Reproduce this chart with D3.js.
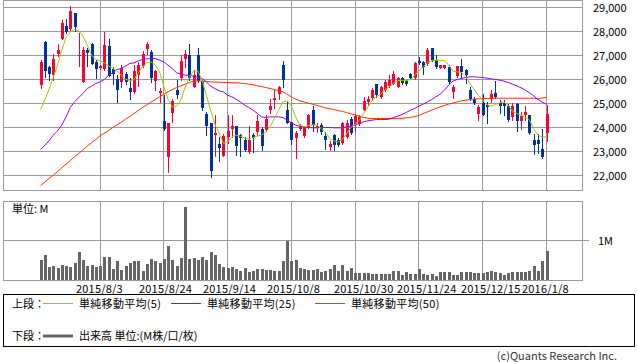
<!DOCTYPE html>
<html><head><meta charset="utf-8">
<script src="https://cdn.jsdelivr.net/npm/d3@7"></script>
<style>
body{margin:0;background:#fff;}
svg text{font-family:"Noto Sans CJK JP","DejaVu Sans",sans-serif;font-size:11px;fill:#000;}
</style></head>
<body><svg id="c" width="638" height="362"></svg>
<script>
// ---- data ----
const openP = [25764,27569,26528,26181,27056,27708,28222,28125,28750,26972,
25903,27250,27500,26736,26472,26458,27403,26458,26014,25903,
26222,25625,25486,26181,26569,27264,27153,25931,25444,24278,
22778,24611,25583,26069,26875,27014,25694,27014,25931,24556,
24167,23694,23306,22819,23611,23944,24056,23681,23500,22986,
23681,23819,23958,23889,24722,25139,25389,26597,24722,24236,
23542,23917,23653,24028,24722,24028,24097,23653,23167,23681,
23472,23361,23611,24347,24139,24139,24750,25069,25250,25806,
25278,25556,25722,25833,25694,26042,25944,26222,26042,26764,
26736,26639,27292,26806,26486,26500,26528,25486,26139,26556,
26389,25583,25167,24556,25028,24931,25167,25417,25028,25000,
24889,24444,24972,24278,24514,24514,23500,23500,23125,23778];
const highP = [26806,27597,26556,27056,27500,28472,28500,29056,28750,27917,
27361,27292,27528,26806,26597,27986,27667,26528,26181,26597,
26319,26083,26597,26736,27181,27569,27250,26389,25625,25347,
24194,25167,25972,27014,27222,27500,26389,27333,25972,24653,
24194,24514,23611,23750,24514,24514,24056,23750,23611,24056,
23778,24514,24028,24514,25167,25556,25736,26764,25111,24236,
23861,24139,24056,24583,24889,24167,24167,23792,23444,23722,
23542,24236,24306,24444,24514,24514,25278,25306,25625,25833,
25722,25972,26181,26361,26111,26111,25972,26278,26736,26944,
26764,27292,27333,27014,26625,26625,26597,25764,26556,26875,
26458,25667,25278,24931,25389,25069,25583,25931,25139,25139,
24972,25000,25000,24653,24889,24514,23722,23750,23958,24931];
const lowP = [25625,26111,25972,26000,26972,27667,27917,28083,28028,26556,
25903,26569,26639,26083,26458,26389,26139,25833,25069,25667,
25833,25167,25444,25722,26528,27083,25903,25556,25069,23889,
22153,24236,25250,25972,26528,25972,25667,25903,24722,23708,
21944,22806,22611,22806,23375,23611,22847,22806,23028,22944,
22986,23681,23056,23861,24611,24792,25167,25667,24167,23292,
22750,23889,23611,24000,23861,23819,23750,23097,23083,23083,
23236,23306,23583,23750,23861,24097,24722,24931,25139,25278,
25250,25528,25667,25792,25667,25833,25764,26042,26014,26639,
26222,26597,26764,26500,26472,26472,25861,25236,26111,26042,
25861,25139,24972,24306,24514,24194,25069,25250,24611,24514,
24278,24333,23847,23958,24306,23722,22889,22944,22750,23444];
const closeP = [26736,26361,26222,26875,27222,28361,27986,28847,28194,27014,
27250,27111,26639,26458,26569,27431,26139,26222,25556,26500,
25903,25486,26347,26597,27083,27500,26042,26347,25528,23931,
24194,25097,25347,26764,27083,26083,26181,25931,24819,24056,
22194,23778,23153,23639,23847,24056,23236,23583,23056,23500,
23583,24278,23236,24347,24889,25250,25667,26000,24194,23472,
23778,24056,24028,24514,24097,24083,23792,23472,23306,23264,
23264,24167,24194,23778,24472,24444,25111,25167,25583,25347,
25667,25903,26000,26222,26069,25861,25833,26083,26667,26694,
26528,27222,26806,26528,26597,26597,25903,25667,26556,26319,
26181,25208,25028,24861,24514,24861,25375,25278,24889,24889,
24306,24889,24278,24472,24653,23778,23264,23306,22778,24583];
const ma5 = [24750,25139,25583,26083,26597,27222,27750,27972,28083,28028,
27806,27431,27014,26833,26778,26694,26569,26458,26347,26181,
26014,25944,26000,26278,26528,26694,26736,26597,26319,25722,
25167,24861,24889,25139,25667,26083,26361,26361,25972,25347,
24722,24139,23778,23333,23403,23611,23681,23639,23569,23514,
23583,23639,23681,23819,24028,24375,24722,25069,25111,24889,
24444,24097,24028,24083,24111,24097,23958,23778,23542,23444,
23403,23500,23750,24000,24139,24306,24583,24861,25139,25278,
25389,25556,25694,25833,25944,25972,25944,26000,26181,26361,
26528,26694,26778,26806,26806,26792,26597,26347,26319,26292,
26139,25833,25583,25347,25139,24944,24889,24958,25028,25069,
24917,24681,24583,24514,24444,24306,23958,23681,23611,23611];
const ma25 = [23083,23250,23444,23681,23861,24097,24444,24833,25069,25250,
25417,25625,25722,25833,25903,26000,26181,26278,26417,26458,
26556,26667,26694,26778,26833,26861,26875,26875,26806,26736,
26597,26458,26278,26222,26181,26167,26139,26083,26042,25903,
25722,25625,25528,25486,25347,25278,25181,25069,24931,24833,
24722,24583,24444,24417,24444,24444,24444,24417,24306,24194,
24097,24056,24028,24000,23986,23986,24000,24000,24000,23986,
23986,23986,24028,24056,24097,24167,24236,24278,24306,24333,
24333,24333,24347,24417,24472,24542,24625,24722,24792,24889,
24972,25069,25167,25278,25389,25556,25764,25931,26000,26042,
26083,26111,26111,26097,26083,26056,26028,26000,25972,25931,
25875,25806,25736,25653,25556,25444,25319,25167,25056,24972];
const ma50 = [21583,21722,21875,22014,22167,22319,22472,22625,22778,22917,
23069,23222,23361,23500,23653,23764,23875,24000,24111,24222,
24347,24458,24583,24708,24833,24944,25056,25167,25278,25389,
25486,25583,25667,25736,25806,25875,25931,25944,25931,25917,
25903,25889,25889,25875,25875,25861,25861,25847,25833,25806,
25778,25736,25708,25667,25625,25583,25542,25486,25389,25278,
25181,25111,25069,25014,24972,24917,24875,24819,24778,24750,
24708,24667,24625,24569,24528,24472,24417,24389,24375,24375,
24375,24375,24375,24375,24375,24389,24403,24417,24458,24500,
24583,24653,24722,24792,24861,24917,24972,25014,25069,25111,
25139,25167,25181,25194,25208,25208,25222,25222,25222,25222,
25222,25222,25222,25222,25222,25222,25222,25194,25236,25250];
const volumeM = [0.51,0.64,0.34,0.36,0.30,0.38,0.36,0.34,0.44,0.70,
0.51,0.36,0.38,0.34,0.36,0.58,0.58,0.27,0.48,0.25,
0.36,0.44,0.48,0.48,0.24,0.41,0.53,0.47,0.44,0.53,
0.85,0.51,0.36,0.55,1.86,0.54,0.55,0.51,0.58,0.51,
0.72,0.64,0.41,0.32,0.30,0.32,0.27,0.24,0.30,0.21,
0.23,0.28,0.28,0.25,0.25,0.24,0.24,0.47,1.00,0.48,
0.51,0.30,0.28,0.25,0.25,0.28,0.19,0.22,0.27,0.38,
0.24,0.38,0.23,0.30,0.17,0.17,0.17,0.17,0.15,0.15,
0.15,0.15,0.15,0.22,0.22,0.12,0.19,0.14,0.15,0.27,
0.14,0.13,0.14,0.10,0.21,0.21,0.21,0.13,0.13,0.19,
0.19,0.19,0.17,0.17,0.17,0.19,0.23,0.19,0.17,0.13,
0.17,0.19,0.19,0.19,0.21,0.24,0.36,0.23,0.47,0.74];
const tickIndex = [14,29,44,59,74,89,104,119];
const tickLabels = ["2015/8/3","2015/8/24","2015/9/14","2015/10/8","2015/10/30","2015/11/24","2015/12/15","2016/1/8"];
const priceTicks = [22000,23000,24000,25000,26000,27000,28000,29000];
const volTicks = [1];
const volTickLabels = ["1M"];
const legendLabels = ["単純移動平均(5)","単純移動平均(25)","単純移動平均(50)"];
const legendColors = ["#99cc00","#9900ff","#ff3300"];

// ---- drawing ----
const svg = d3.select("#c");
const n = closeP.length;
const x = d3.scaleLinear().domain([0, n-1]).range([40.5, 546.5]);
const y = d3.scaleLinear().domain([22000, 29000]).range([175.5, 7.5]);
const yv = d3.scaleLinear().domain([0, 1]).range([280, 240.5]);
const L = 3.5, R = 582.5;
const grid = "#9a9a9a";

const g = svg.append("g").attr("shape-rendering","crispEdges");
// main grid
g.selectAll(".hg").data(priceTicks).enter().append("line")
  .attr("x1",L).attr("x2",R).attr("y1",d=>y(d)).attr("y2",d=>y(d))
  .attr("stroke",grid);
g.selectAll(".vg").data(tickIndex).enter().append("line")
  .attr("x1",d=>Math.floor(x(d))+0.5).attr("x2",d=>Math.floor(x(d))+0.5)
  .attr("y1",0.5).attr("y2",190.5).attr("stroke",grid);
g.append("rect").attr("x",L).attr("y",0.5).attr("width",R-L).attr("height",190)
  .attr("fill","none").attr("stroke",grid);
// volume grid
g.selectAll(".vhg").data(volTicks).enter().append("line")
  .attr("x1",L).attr("x2",R+6).attr("y1",d=>yv(d)).attr("y2",d=>yv(d))
  .attr("stroke",grid);
g.selectAll(".vvg").data(tickIndex).enter().append("line")
  .attr("x1",d=>Math.floor(x(d))+0.5).attr("x2",d=>Math.floor(x(d))+0.5)
  .attr("y1",201.5).attr("y2",280.5).attr("stroke",grid);
g.append("rect").attr("x",L).attr("y",201.5).attr("width",R-L).attr("height",79)
  .attr("fill","none").attr("stroke",grid);

// candles
const idx = d3.range(n);
const up = "#ff0033", dn = "#003399";
const cg = svg.append("g").attr("shape-rendering","crispEdges");
cg.selectAll(".wk").data(idx).enter().append("line")
  .attr("x1",i=>Math.round(x(i))+0.5).attr("x2",i=>Math.round(x(i))+0.5)
  .attr("y1",i=>Math.round(y(highP[i]))).attr("y2",i=>Math.round(y(lowP[i]))+1)
  .attr("stroke",i=>closeP[i]>=openP[i]?up:dn);
cg.selectAll(".bd").data(idx).enter().append("rect")
  .attr("x",i=>Math.round(x(i))-1).attr("width",3)
  .attr("y",i=>Math.round(y(Math.max(openP[i],closeP[i]))))
  .attr("height",i=>Math.max(1,Math.round(y(Math.min(openP[i],closeP[i])))-Math.round(y(Math.max(openP[i],closeP[i])))))
  .attr("fill",i=>closeP[i]>=openP[i]?up:dn);

// moving averages
const line = d3.line().x((d,i)=>x(i)).y(d=>y(d));
[[ma50,legendColors[2]],[ma25,legendColors[1]],[ma5,legendColors[0]]].forEach(([arr,col])=>{
  svg.append("path").datum(arr).attr("d",line).attr("fill","none")
    .attr("stroke",col).attr("stroke-width",1);
});

// volume bars
svg.append("g").attr("shape-rendering","crispEdges")
  .selectAll("rect").data(idx).enter().append("rect")
  .attr("x",i=>Math.round(x(i))-1).attr("width",3)
  .attr("y",i=>yv(volumeM[i])).attr("height",i=>yv(0)-yv(volumeM[i]))
  .attr("fill","#666666");

// axis labels
const fmt = d3.format(",");
svg.selectAll(".pl").data(priceTicks).enter().append("text")
  .attr("x",593).attr("y",d=>y(d)+4).text(d=>fmt(d));
svg.selectAll(".vl").data(volTicks).enter().append("text")
  .attr("x",598).attr("y",d=>yv(d)+4).text((d,i)=>volTickLabels[i]);
svg.append("text").attr("x",12).attr("y",213).text("単位: M");
svg.selectAll(".dl").data(tickIndex).enter().append("text")
  .attr("x",(d,i)=>Math.floor(x(d))-24+(tickLabels[i].length>9?3:0))
  .attr("y",292.5).style("letter-spacing","0.2px").text((d,i)=>tickLabels[i]);

// legend
const lg = svg.append("g");
lg.append("rect").attr("x",3.5).attr("y",294.5).attr("width",631).attr("height",52)
  .attr("fill","none").attr("stroke","#000").attr("shape-rendering","crispEdges");
lg.append("text").attr("x",12).attr("y",307.5).text("上段：");
const lx = [43,171,315];
legendLabels.forEach((t,i)=>{
  lg.append("line").attr("x1",lx[i]).attr("x2",lx[i]+30).attr("y1",303.5).attr("y2",303.5)
    .attr("stroke",legendColors[i]).attr("stroke-width",1);
  lg.append("text").attr("x",lx[i]+36).attr("y",307.5).style("letter-spacing","0.3px").text(t);
});
lg.append("text").attr("x",12).attr("y",340).text("下段：");
lg.append("line").attr("x1",43).attr("x2",73).attr("y1",336).attr("y2",336)
  .attr("stroke","#666666").attr("stroke-width",3);
lg.append("text").attr("x",79).attr("y",340).text("出来高 単位:(M株/口/枚)");
svg.append("text").attr("x",617).attr("y",360).attr("text-anchor","end")
  .style("fill","#333").text("(c)Quants Research Inc.");
</script></body></html>
